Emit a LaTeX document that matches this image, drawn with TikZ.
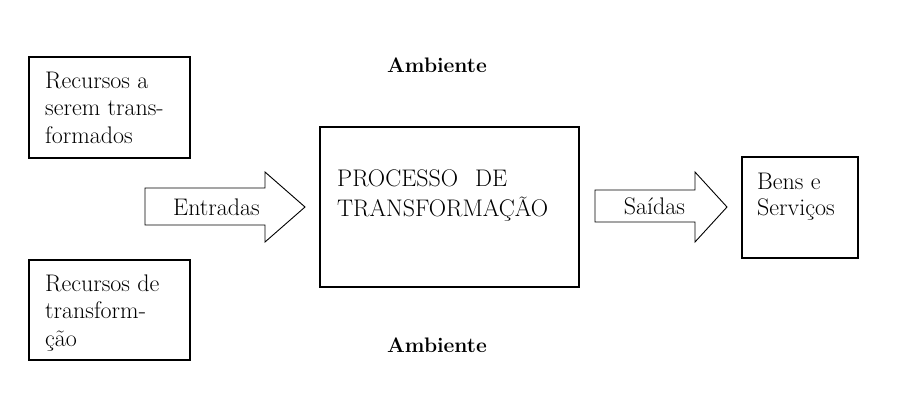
\documentclass[tikz,border=0pt]{standalone}
\usepackage{fontspec}
\begin{document}
\begin{tikzpicture}[x=1pt,y=-1pt,
  box/.style={draw, line width=1.2pt, inner sep=0pt},
  txt/.style={anchor=base west, inner sep=0pt, font=\fontsize{24}{28}\selectfont},
  ctxt/.style={anchor=base, inner sep=0pt, font=\fontsize{24}{28}\selectfont},
  amb/.style={anchor=base, inner sep=0pt, font=\fontsize{21}{28}\selectfont\bfseries},
  barrow/.style={draw, line width=0.9pt, fill=white, line join=miter}]
\useasboundingbox (0,0) rectangle (902,413);
% boxes
\node[box, minimum width=161pt, minimum height=101pt] (r1) at (109.5,107.5) {};
\node[box, minimum width=161pt, minimum height=100pt] (r2) at (109.5,310) {};
\node[box, minimum width=259pt, minimum height=160pt] (proc) at (449.5,207) {};
\node[box, minimum width=116pt, minimum height=101pt] (bens) at (800,207.5) {};
% block arrows
\draw[barrow] (145,188) -- (265,188) -- (265,172) -- (305,207) -- (265,242) -- (265,225) -- (145,225) -- cycle;
\draw[barrow] (595,190) -- (695,190) -- (695,172) -- (727,207) -- (695,242) -- (695,222) -- (595,222) -- cycle;
% texts
\node[txt] (r1a) at (45,88) {Recursos a};
\node[txt] (r1b) at (45,115) {serem trans-};
\node[txt] (r1c) at (45,143) {formados};
\node[txt] (r2a) at (45,291) {Recursos de};
\node[txt] (r2b) at (45,318) {transform-};
\node[txt] (r2c) at (45,346.5) {ção};
\node[ctxt] (ent) at (216.5,215) {Entradas};
\node[ctxt] (sai) at (654.5,214) {Saídas};
\node[txt] (p1) at (337,186) {PROCESSO};
\node[txt] (p2) at (475,186) {DE};
\node[txt] (p3) at (337,216.5) {TRANSFORMAÇÃO};
\node[txt] (b1) at (757,189) {Bens e};
\node[txt] (b2) at (757,215) {Serviços};
\node[amb] (amb1) at (437,72.5) {Ambiente};
\node[amb] (amb2) at (437,352) {Ambiente};
\end{tikzpicture}
\end{document}
